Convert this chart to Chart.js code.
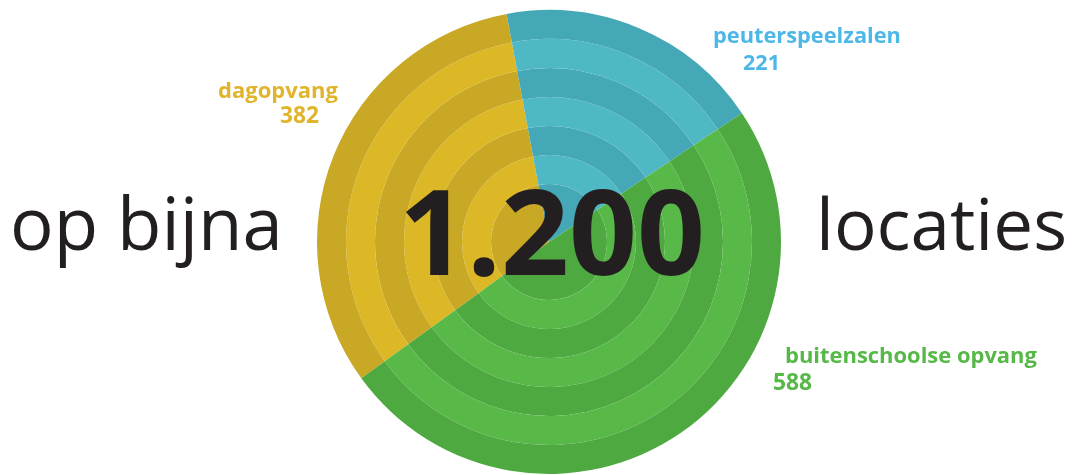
<!DOCTYPE html>
<html>
<head>
<meta charset="utf-8">
<script src="https://cdn.jsdelivr.net/npm/chart.js@4/dist/chart.umd.min.js"></script>
<style>
  html, body { margin: 0; padding: 0; background: #ffffff; }
  #wrap { width: 1077px; height: 475px; position: relative; }
</style>
</head>
<body>
<div id="wrap"><canvas id="c" width="1077" height="475"></canvas></div>
<script>
// ---- data ----
const categories = ['dagopvang', 'peuterspeelzalen', 'buitenschoolse opvang'];
const values = [382, 221, 588];
const totalLabel = '1.200';
const leftText = 'op bijna';
const rightText = 'locaties';

// ---- styles ----
const lightColors = ['#DDB826', '#4FB8C5', '#58B948'];
const darkColors  = ['#C8A824', '#45A8B6', '#4EA940'];
const labelColors = ['#E0B52B', '#4DB8E8', '#55B847'];
// outermost ring first; innermost disc counts double
const ringPattern = [
  { shade: 'dark', weight: 1 },
  { shade: 'light', weight: 1 },
  { shade: 'dark', weight: 1 },
  { shade: 'light', weight: 1 },
  { shade: 'dark', weight: 1 },
  { shade: 'light', weight: 1 },
  { shade: 'dark', weight: 2 }
];

const datasets = ringPattern.map(r => ({
  data: values,
  backgroundColor: r.shade === 'dark' ? darkColors : lightColors,
  borderWidth: 0,
  weight: r.weight,
  hoverOffset: 0
}));

const FONT = '"Open Sans", "Noto Sans", sans-serif';

function fitFont(ctx, text, weight, targetWidth) {
  ctx.font = weight + ' 100px ' + FONT;
  const w = ctx.measureText(text).width;
  return 100 * targetWidth / w;
}

// text items: [text, weight, color, left x, right x, baseline y]
const textItems = [
  [leftText, '400', '#231F20', 10, 283, 250],
  [rightText, '400', '#231F20', 816, 1067, 250],
  [categories[0], '700', labelColors[0], 218, 338, 98],
  [String(values[0]), '700', labelColors[0], 280, 319, 123],
  [categories[1], '700', labelColors[1], 713, 901, 43],
  [String(values[1]), '700', labelColors[1], 743, 780, 70],
  [categories[2], '700', labelColors[2], 785, 1037, 363],
  [String(values[2]), '700', labelColors[2], 773, 812, 390],
  [totalLabel, '700', '#231F20', 399, 705, 275]
];

const textPlugin = {
  id: 'texts',
  afterDraw(chart) {
    const ctx = chart.ctx;
    ctx.save();
    ctx.textBaseline = 'alphabetic';
    ctx.textAlign = 'left';
    textItems.forEach(([t, wgt, col, x0, x1, y]) => {
      const size = fitFont(ctx, t, wgt, x1 - x0);
      ctx.font = wgt + ' ' + size.toFixed(2) + 'px ' + FONT;
      ctx.fillStyle = col;
      ctx.fillText(t, x0, y);
    });
    ctx.restore();
  }
};

new Chart(document.getElementById('c'), {
  type: 'pie',
  data: { labels: categories, datasets: datasets },
  options: {
    responsive: false,
    animation: false,
    rotation: 234,
    layout: { padding: { top: 10, bottom: 1, left: 21, right: 0 } },
    plugins: {
      legend: { display: false },
      tooltip: { enabled: false }
    },
    events: []
  },
  plugins: [textPlugin]
});
</script>
</body>
</html>
